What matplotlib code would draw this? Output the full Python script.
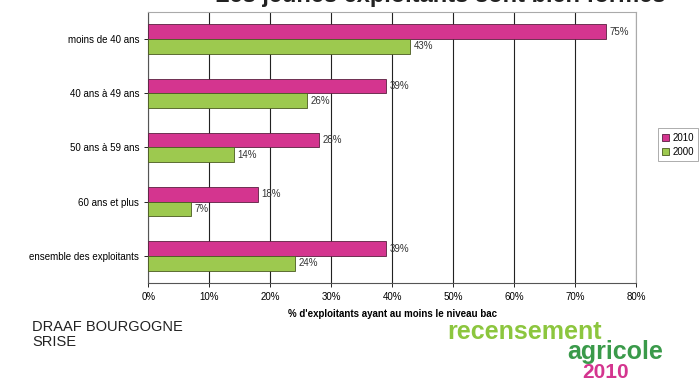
import numpy as np
import matplotlib.pyplot as plt

plt.rcParams.update({"font.family": "Liberation Sans"})

# Data
categories = ["moins de 40 ans", "40 ans à 49 ans", "50 ans à 59 ans",
              "60 ans et plus", "ensemble des exploitants"]
values_2010 = [75, 39, 28, 18, 39]
values_2000 = [43, 26, 14, 7, 24]
xticks = [0, 10, 20, 30, 40, 50, 60, 70, 80]

col_2010 = "#d4358f"
col_2000 = "#9dc94f"

fig = plt.figure(figsize=(6.99, 3.82), dpi=100)
ax = fig.add_axes([0.212, 0.259, 0.698, 0.71])

y = np.arange(len(categories))
h = 0.27
ax.barh(y - h / 2, values_2010, height=h, color=col_2010, edgecolor="#5a2040",
        linewidth=0.6, label="2010", zorder=3)
ax.barh(y + h / 2, values_2000, height=h, color=col_2000, edgecolor="#4a5a20",
        linewidth=0.6, label="2000", zorder=3)

for i in range(len(categories)):
    ax.text(values_2010[i] + 0.6, y[i] - h / 2, f"{values_2010[i]}%",
            va="center", ha="left", fontsize=7, color="#333333")
    ax.text(values_2000[i] + 0.6, y[i] + h / 2, f"{values_2000[i]}%",
            va="center", ha="left", fontsize=7, color="#333333")

ax.set_ylim(len(categories) - 0.5, -0.5)
ax.set_xlim(0, 80)
ax.set_yticks(y)
ax.set_yticklabels(categories, fontsize=7)
ax.set_xticks(xticks)
ax.set_xticklabels([f"{t}%" for t in xticks], fontsize=7)
ax.tick_params(axis="y", length=3, width=0.6)
ax.tick_params(axis="x", length=3, width=0.6)
ax.grid(axis="x", color="#222222", linewidth=0.8, zorder=0)

for s in ["left", "bottom"]:
    ax.spines[s].set_color("#555555")
    ax.spines[s].set_linewidth(0.8)
for s in ["top", "right"]:
    ax.spines[s].set_color("#aaaaaa")
    ax.spines[s].set_linewidth(0.8)

ax.set_xlabel("% d'exploitants ayant au moins le niveau bac", fontsize=7,
              fontweight="bold", labelpad=5)

leg = ax.legend(loc="center left", bbox_to_anchor=(1.035, 0.51), fontsize=7,
                frameon=True, fancybox=False, handlelength=0.7, handleheight=0.7,
                handletextpad=0.3, borderpad=0.45, labelspacing=0.4)
leg.get_frame().set_edgecolor("#888888")
leg.get_frame().set_linewidth(0.6)

# Title cut off at top of the image
fig.text(0.63, 1.012, "Les jeunes exploitants sont bien formés", ha="center",
         va="center", fontsize=17, fontweight="bold", color="#222222")

# Footer
fig.text(0.046, 0.125, "DRAAF BOURGOGNE\nSRISE", ha="left", va="center",
         fontsize=10.5, color="#222222", linespacing=1.1)

fig.text(0.75, 0.13, "recensement", ha="center", va="center", fontsize=18,
         fontweight="bold", color="#8cc63e")
fig.text(0.88, 0.078, "agricole", ha="center", va="center", fontsize=18,
         fontweight="bold", color="#3a9a4a")
fig.text(0.866, 0.026, "2010", ha="center", va="center", fontsize=15,
         fontweight="bold", color="#d4358f")

fig.savefig("out.png", dpi=100)
